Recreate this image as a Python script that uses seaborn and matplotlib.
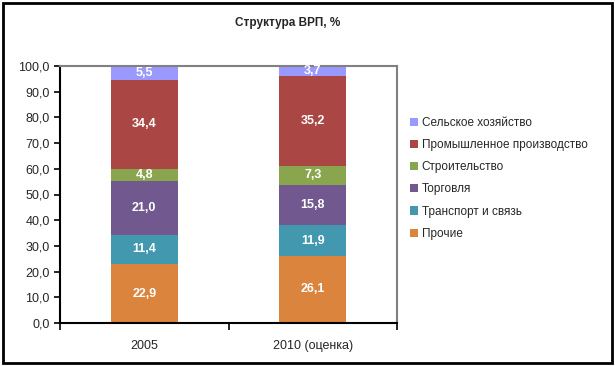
import matplotlib
matplotlib.use("Agg")
import matplotlib.pyplot as plt
from matplotlib import font_manager
from matplotlib.patches import Rectangle, Patch
import seaborn as sns
import pandas as pd
import numpy as np

categories = ["2005", "2010 (оценка)"]
sectors = ["Прочие", "Транспорт и связь", "Торговля", "Строительство",
           "Промышленное производство", "Сельское хозяйство"]
values_2005 = [22.9, 11.4, 21.0, 4.8, 34.4, 5.5]
values_2010 = [26.1, 11.9, 15.8, 7.3, 35.2, 3.7]
colors = ["#DB843D", "#4198AF", "#71588F", "#89A54E", "#AA4643", "#9999FF"]
y_ticks = [0, 10, 20, 30, 40, 50, 60, 70, 80, 90, 100]

sns.set_style("white")
names = {f.name for f in font_manager.fontManager.ttflist}
fam = "Liberation Sans Narrow" if "Liberation Sans Narrow" in names else "Liberation Sans"
plt.rcParams["font.family"] = [fam, "DejaVu Sans"]

rows = []
for cat, vals in zip(categories, [values_2005, values_2010]):
    cum = np.cumsum(vals)
    for s, v, c in zip(sectors, vals, cum):
        rows.append({"cat": cat, "sector": s, "value": v, "cum": c})
df = pd.DataFrame(rows)

fig = plt.figure(figsize=(6.15, 3.66), dpi=100)
ax = fig.add_axes([60/615, 43/366, 337/615, 257/366])

# draw cumulative layers from top to bottom
for s, col in reversed(list(zip(sectors, colors))):
    sub = df[df["sector"] == s]
    sns.barplot(data=sub, x="cat", y="cum", order=categories, color=col,
                width=0.40, ax=ax, saturation=1, edgecolor="none", linewidth=0)

# labels
for i, cat in enumerate(categories):
    sub = df[df["cat"] == cat]
    for _, r in sub.iterrows():
        ax.text(i, r["cum"] - r["value"] / 2, f"{r['value']:.1f}".replace(".", ","),
                ha="center", va="center", color="white", fontweight="bold", fontsize=9)

ax.set_xlim(-0.5, 1.5)
ax.set_ylim(0, 100)
ax.set_yticks(y_ticks)
ax.set_yticklabels([f"{t:.1f}".replace(".", ",") for t in y_ticks], fontsize=9)
ax.set_xticks([-0.5, 0.5, 1.5])
ax.set_xticklabels([])
ax.set_xticks([0, 1], minor=True)
ax.set_xticklabels(categories, minor=True, fontsize=9)
ax.tick_params(axis="x", which="major", direction="out", length=5, width=1.2, color="black", bottom=True)
ax.tick_params(axis="x", which="minor", length=0, pad=12)
ax.tick_params(axis="y", direction="out", length=4.5, width=1.2, color="black", left=True, pad=3)
ax.set_xlabel("")
ax.set_ylabel("")
for sp in ["left", "bottom"]:
    ax.spines[sp].set_color("black")
    ax.spines[sp].set_linewidth(1.5)
for sp in ["top", "right"]:
    ax.spines[sp].set_visible(True)
    ax.spines[sp].set_color("#808080")
    ax.spines[sp].set_linewidth(1.5)

handles = [Patch(facecolor=c, edgecolor="none") for c in reversed(colors)]
labels = list(reversed(sectors))
fig.legend(handles, labels, loc="upper left", bbox_to_anchor=(410/615, 1 - 117/366),
           frameon=False, fontsize=8.5, handlelength=0.7, handleheight=0.7,
           handletextpad=0.3, labelspacing=0.86, borderaxespad=0, borderpad=0)

fig.text(288/615, 1 - 23/366, "Структура ВРП, %", ha="center", va="center",
         fontsize=8.5, fontweight="bold")

fig.patches.append(Rectangle((3/615, 3/366), 609/615, 360/366, transform=fig.transFigure,
                             fill=False, edgecolor="black", linewidth=2))

fig.savefig("out.png", dpi=100)
